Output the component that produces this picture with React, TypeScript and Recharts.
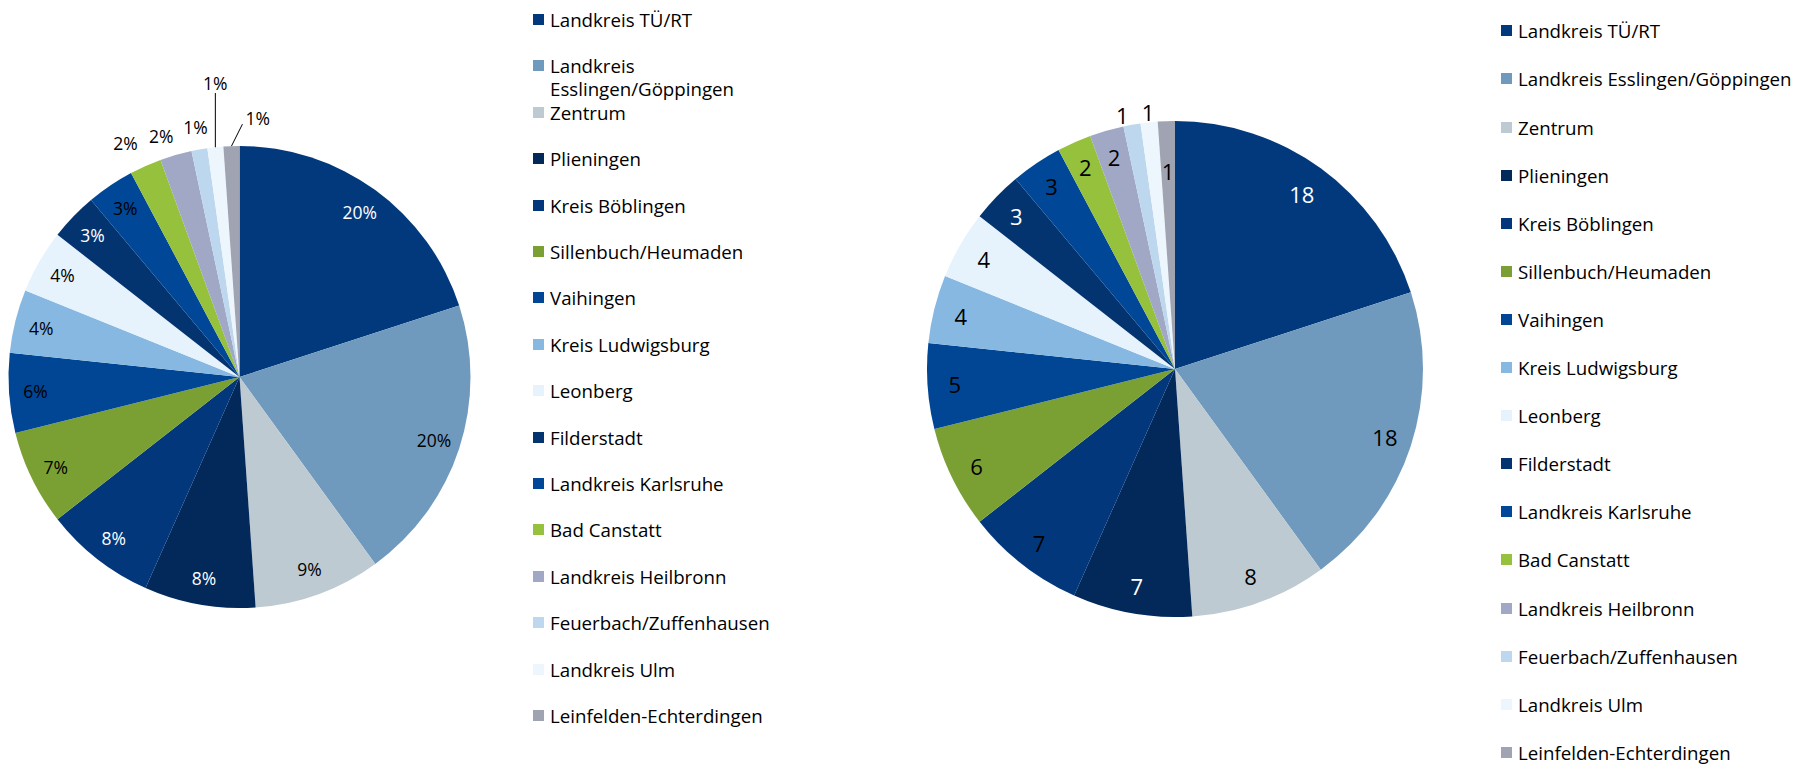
import { PieChart, Pie, Cell, Legend } from "recharts";

const regions = [
  "Landkreis TÜ/RT",
  "Landkreis Esslingen/Göppingen",
  "Zentrum",
  "Plieningen",
  "Kreis Böblingen",
  "Sillenbuch/Heumaden",
  "Vaihingen",
  "Kreis Ludwigsburg",
  "Leonberg",
  "Filderstadt",
  "Landkreis Karlsruhe",
  "Bad Canstatt",
  "Landkreis Heilbronn",
  "Feuerbach/Zuffenhausen",
  "Landkreis Ulm",
  "Leinfelden-Echterdingen",
];
const counts = [18, 18, 8, 7, 7, 6, 5, 4, 4, 3, 3, 2, 2, 1, 1, 1];
const colors = [
  "#02397c",
  "#6f9abd",
  "#bdcad2",
  "#03285a",
  "#02387b",
  "#7aa033",
  "#004695",
  "#86b8e2",
  "#e6f3fc",
  "#033470",
  "#004797",
  "#95c13d",
  "#a0a8c5",
  "#bdd7ee",
  "#eef6fd",
  "#a0a3b2",
];

const data = regions.map((name, i) => ({ name, value: counts[i] }));

const FONT = '"Open Sans", sans-serif';
const RAD = Math.PI / 180;
const W = 1793;
const H = 766;

// label colours: white text on some dark slices
const leftWhite = [0, 3, 4, 9];
const rightWhite = [0, 3, 9];

function polar(cx: number, cy: number, r: number, angle: number) {
  return { x: cx + r * Math.cos(-angle * RAD), y: cy + r * Math.sin(-angle * RAD) };
}

const renderLeftLabel = (p: any) => {
  const { cx, cy, midAngle, outerRadius, index, percent } = p;
  const text = `${Math.round(percent * 100)}%`;
  const fill = leftWhite.includes(index) ? "#fff" : "#000";
  const common = { fontFamily: FONT, fontSize: 17.5, fill, dominantBaseline: "central" as const };
  if (index === 14) {
    const e = polar(cx, cy, outerRadius, midAngle);
    return (
      <g key={`l${index}`}>
        <line x1={e.x} y1={e.y} x2={e.x} y2={cy - 284} stroke="#000" strokeWidth={1} />
        <text x={e.x} y={cy - 294} textAnchor="middle" {...common}>
          {text}
        </text>
      </g>
    );
  }
  if (index === 15) {
    const e = polar(cx, cy, outerRadius, midAngle);
    const ex = e.x + 11;
    const ey = e.y - 22;
    return (
      <g key={`l${index}`}>
        <line x1={e.x} y1={e.y} x2={ex} y2={ey} stroke="#000" strokeWidth={1} />
        <text x={ex + 3} y={ey - 6} textAnchor="start" {...common}>
          {text}
        </text>
      </g>
    );
  }
  let r = outerRadius * 0.885;
  let a = midAngle;
  if (index === 11) { r = outerRadius + 29; a = midAngle + 2; }
  if (index === 12) { r = outerRadius + 22; a = midAngle + 2; }
  if (index === 13) { r = outerRadius + 23; }
  const pt = polar(cx, cy, r, a);
  return (
    <text key={`l${index}`} x={pt.x} y={pt.y} textAnchor="middle" {...common}>
      {text}
    </text>
  );
};

const renderRightLabel = (p: any) => {
  const { cx, cy, midAngle, outerRadius, index, value } = p;
  const fill = rightWhite.includes(index) ? "#fff" : "#000";
  let r = outerRadius * 0.89;
  if (index === 0) r = outerRadius * 0.87;
  if (index === 13 || index === 14) r = outerRadius + 10;
  if (index === 15) r = outerRadius * 0.8;
  const pt = polar(cx, cy, r, midAngle);
  const dx = index === 13 ? -8 : 0;
  return (
    <text
      key={`r${index}`}
      x={pt.x + dx}
      y={pt.y}
      textAnchor="middle"
      dominantBaseline="central"
      fontFamily={FONT}
      fontSize={22}
      fill={fill}
    >
      {value}
    </text>
  );
};

function LegendList({ pitch, textWidth }: { pitch: number; textWidth: number }) {
  return (
    <div style={{ position: "relative", width: textWidth + 17, height: pitch * 16, fontFamily: FONT }}>
      {regions.map((name, i) => (
        <div
          key={name}
          style={{ position: "absolute", left: 0, top: i * pitch, display: "flex", alignItems: "flex-start" }}
        >
          <span
            style={{ width: 11, height: 11, background: colors[i], marginTop: 6, marginRight: 6, flex: "none" }}
          />
          <span style={{ fontSize: 18.7, lineHeight: "23px", color: "#000", width: textWidth, whiteSpace: "normal" }}>
            {name}
          </span>
        </div>
      ))}
    </div>
  );
}

export default function App() {
  return (
    <div style={{ position: "absolute", left: 0, top: 0, width: W, height: H, background: "#fff" }}>
      <div style={{ position: "absolute", left: 0, top: 0 }}>
        <PieChart width={900} height={H} margin={{ top: 0, right: 0, bottom: 0, left: 0 }}>
          <Pie
            data={data}
            dataKey="value"
            nameKey="name"
            cx={239.5}
            cy={377}
            outerRadius={231}
            startAngle={90}
            endAngle={-270}
            stroke="none"
            label={renderLeftLabel}
            labelLine={false}
            isAnimationActive={false}
          >
            {data.map((d, i) => (
              <Cell key={d.name} fill={colors[i]} />
            ))}
          </Pie>
          <Legend
            layout="vertical"
            align="right"
            verticalAlign="top"
            wrapperStyle={{ left: 533, top: 8, width: 265 }}
            content={() => <LegendList pitch={46.4} textWidth={245} />}
          />
        </PieChart>
      </div>
      <div style={{ position: "absolute", left: 900, top: 0 }}>
        <PieChart width={893} height={H} margin={{ top: 0, right: 0, bottom: 0, left: 0 }}>
          <Pie
            data={data}
            dataKey="value"
            nameKey="name"
            cx={275}
            cy={369}
            outerRadius={248}
            startAngle={90}
            endAngle={-270}
            stroke="none"
            label={renderRightLabel}
            labelLine={false}
            isAnimationActive={false}
          >
            {data.map((d, i) => (
              <Cell key={d.name} fill={colors[i]} />
            ))}
          </Pie>
          <Legend
            layout="vertical"
            align="right"
            verticalAlign="top"
            wrapperStyle={{ left: 601, top: 19.4, width: 292 }}
            content={() => <LegendList pitch={48.1} textWidth={285} />}
          />
        </PieChart>
      </div>
    </div>
  );
}
